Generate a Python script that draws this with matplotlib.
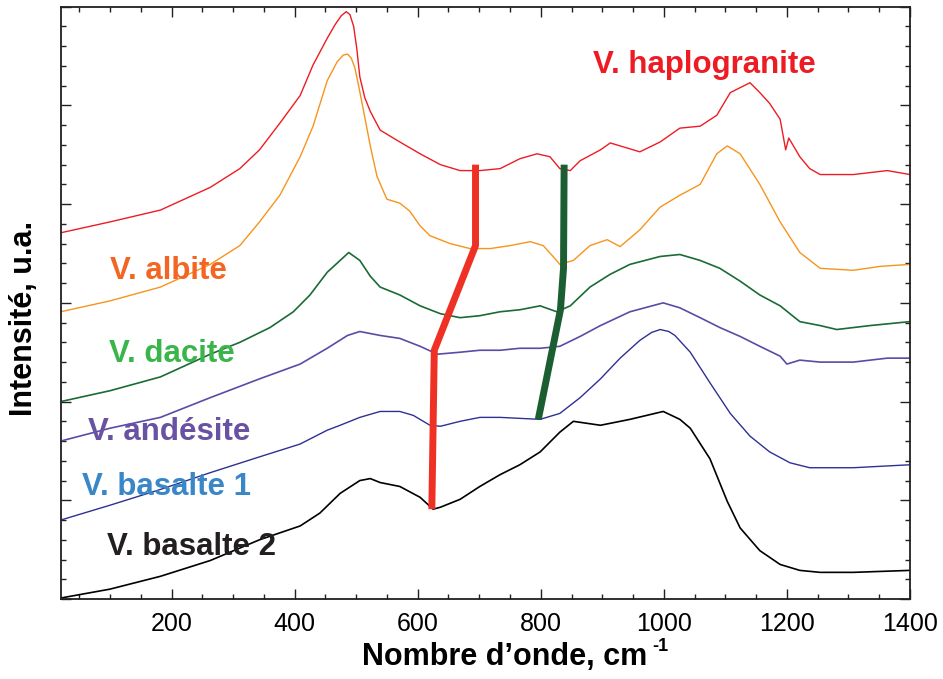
import matplotlib
matplotlib.use("Agg")
import matplotlib.pyplot as plt
from matplotlib.ticker import MultipleLocator

# spectres (nombre d'onde, intensité décalée)
wn_haplo = [20, 100, 182, 263, 311, 343, 376, 409, 430, 453, 466, 476, 484, 490, 496, 501, 506, 514, 523, 539, 571,
            604, 637, 669, 701, 734, 766, 794, 815, 831, 848, 864, 897, 913, 929, 961, 994, 1026, 1059, 1086, 1108,
            1140, 1156, 1172, 1189, 1198, 1203, 1221, 1237, 1254, 1308, 1363, 1400]
int_haplo = [3.71, 3.82, 3.94, 4.17, 4.36, 4.55, 4.82, 5.10, 5.41, 5.68, 5.82, 5.91, 5.95, 5.92, 5.80, 5.58, 5.29,
             5.08, 4.94, 4.75, 4.63, 4.51, 4.40, 4.34, 4.34, 4.36, 4.46, 4.51, 4.48, 4.36, 4.34, 4.44, 4.55, 4.62,
             4.59, 4.53, 4.63, 4.77, 4.79, 4.90, 5.13, 5.23, 5.13, 5.02, 4.86, 4.55, 4.67, 4.48, 4.36, 4.30, 4.30,
             4.34, 4.30]

wn_albite = [20, 100, 182, 263, 311, 343, 376, 409, 430, 453, 469, 479, 486, 492, 498, 504, 511, 523, 534, 550, 571,
             587, 604, 620, 653, 685, 718, 750, 783, 804, 820, 831, 853, 880, 908, 929, 961, 994, 1026, 1059, 1086,
             1103, 1124, 1156, 1189, 1221, 1254, 1308, 1352, 1400]
int_albite = [2.91, 3.02, 3.16, 3.39, 3.58, 3.82, 4.09, 4.48, 4.79, 5.25, 5.44, 5.51, 5.52, 5.48, 5.38, 5.20, 4.98,
              4.59, 4.28, 4.05, 4.01, 3.93, 3.78, 3.68, 3.60, 3.55, 3.55, 3.58, 3.62, 3.58, 3.47, 3.39, 3.43, 3.58,
              3.64, 3.57, 3.74, 3.97, 4.09, 4.20, 4.51, 4.59, 4.51, 4.20, 3.82, 3.51, 3.35, 3.33, 3.37, 3.39]

wn_dacite = [20, 100, 182, 263, 311, 360, 398, 425, 453, 474, 488, 506, 523, 539, 571, 604, 637, 669, 701, 734,
             766, 799, 826, 848, 880, 913, 945, 994, 1026, 1059, 1091, 1124, 1156, 1189, 1221, 1254, 1281, 1335, 1400]
int_dacite = [2.00, 2.11, 2.25, 2.48, 2.60, 2.75, 2.91, 3.08, 3.31, 3.43, 3.51, 3.43, 3.27, 3.16, 3.08, 2.97, 2.89,
              2.85, 2.87, 2.91, 2.93, 2.97, 2.91, 2.97, 3.16, 3.29, 3.39, 3.47, 3.49, 3.43, 3.35, 3.22, 3.08, 2.97,
              2.81, 2.77, 2.73, 2.77, 2.81]

wn_andesite = [20, 100, 182, 263, 343, 409, 453, 486, 506, 539, 571, 604, 632, 669, 701, 734, 766, 799, 831, 864,
               897, 945, 999, 1026, 1059, 1091, 1124, 1156, 1189, 1200, 1221, 1254, 1308, 1363, 1400]
int_andesite = [1.60, 1.73, 1.84, 2.04, 2.23, 2.38, 2.54, 2.67, 2.71, 2.67, 2.64, 2.56, 2.48, 2.50, 2.52, 2.52, 2.54,
                2.54, 2.56, 2.66, 2.77, 2.91, 3.00, 2.95, 2.85, 2.75, 2.66, 2.56, 2.46, 2.38, 2.42, 2.40, 2.40, 2.44,
                2.44]

wn_basalte1 = [20, 100, 182, 263, 343, 409, 453, 474, 506, 539, 571, 593, 620, 637, 669, 701, 734, 766, 799, 831,
               864, 897, 929, 961, 980, 994, 1008, 1018, 1043, 1075, 1108, 1140, 1172, 1205, 1237, 1308, 1400]
int_basalte1 = [0.80, 0.95, 1.11, 1.28, 1.44, 1.57, 1.71, 1.76, 1.84, 1.90, 1.90, 1.86, 1.76, 1.75, 1.80, 1.84, 1.84,
                1.83, 1.82, 1.88, 2.04, 2.23, 2.44, 2.62, 2.70, 2.73, 2.71, 2.67, 2.50, 2.19, 1.88, 1.65, 1.49, 1.38,
                1.33, 1.33, 1.36]

wn_basalte2 = [20, 100, 182, 263, 343, 409, 441, 474, 506, 523, 539, 571, 604, 625, 637, 669, 701, 734, 766, 799,
               831, 853, 897, 945, 999, 1026, 1043, 1075, 1103, 1124, 1156, 1189, 1221, 1254, 1308, 1400]
int_basalte2 = [0.01, 0.10, 0.23, 0.39, 0.60, 0.74, 0.87, 1.07, 1.20, 1.22, 1.18, 1.14, 1.03, 0.91, 0.93, 1.01, 1.14,
                1.26, 1.36, 1.49, 1.69, 1.80, 1.76, 1.82, 1.90, 1.82, 1.73, 1.42, 0.99, 0.72, 0.49, 0.35, 0.29, 0.27,
                0.27, 0.29]

# traits épais (déplacement des bandes)
wn_trait_rouge = [694, 694, 627, 623]
int_trait_rouge = [4.40, 3.58, 2.52, 0.91]
wn_trait_vert = [838, 837, 832, 796]
int_trait_vert = [4.40, 3.35, 2.93, 1.82]

plt.rcParams['font.family'] = ['Liberation Sans', 'DejaVu Sans']

fig = plt.figure(figsize=(9.43, 6.79), dpi=100)
ax = fig.add_axes([0.0644, 0.1178, 0.9006, 0.8723])

ax.plot(wn_haplo, int_haplo, color='#ed1c24', lw=1.0)
ax.plot(wn_albite, int_albite, color='#f7941d', lw=1.0)
ax.plot(wn_dacite, int_dacite, color='#1a6b35', lw=1.2)
ax.plot(wn_andesite, int_andesite, color='#5b4ba5', lw=1.2)
ax.plot(wn_basalte1, int_basalte1, color='#2e3192', lw=1.0)
ax.plot(wn_basalte2, int_basalte2, color='black', lw=1.2)

ax.plot(wn_trait_rouge, int_trait_rouge, color='#ee3124', lw=5, solid_capstyle='butt', zorder=5)
ax.plot(wn_trait_vert, int_trait_vert, color='#1b5e32', lw=5, solid_capstyle='butt', zorder=5)

# noms des verres
lab = dict(fontsize=22.5, fontweight='bold', ha='left', va='baseline')
ax.text(885, 5.33, 'V. haplogranite', color='#ed1c24', **lab)
ax.text(100, 3.24, 'V. albite', color='#f26522', **lab)
ax.text(98, 2.40, 'V. dacite', color='#39b54a', **lab)
ax.text(64, 1.61, 'V. andésite', color='#6a52a3', **lab)
ax.text(55, 1.05, 'V. basalte 1', color='#3a87c8', **lab)
ax.text(95, 0.445, 'V. basalte 2', color='#231f20', **lab)

ax.set_xlim(20, 1400)
ax.set_ylim(0, 6)
ax.xaxis.set_major_locator(MultipleLocator(200))
ax.xaxis.set_minor_locator(MultipleLocator(50))
ax.yaxis.set_major_locator(MultipleLocator(1))
ax.yaxis.set_minor_locator(MultipleLocator(0.2))
ax.set_yticklabels([])
ax.tick_params(which='both', direction='in', top=True, right=True, color='#231f20', width=1)
ax.tick_params(which='major', length=7, labelsize=18, pad=9)
ax.tick_params(which='minor', length=3.6)
for s in ax.spines.values():
    s.set_linewidth(1.3)
    s.set_color('#231f20')

ax.set_xlabel("Nombre d\u2019onde, cm", fontsize=22, fontweight='bold')
ax.xaxis.set_label_coords(0.523, -0.072)
# exposant -1 de l'unité
ax.text(0.696, -0.066, '-1', transform=ax.transAxes, fontsize=13, fontweight='bold', ha='left', va='top')
ax.set_ylabel('Intensité, u.a.', fontsize=22, fontweight='bold')
ax.yaxis.set_label_coords(-0.026, 0.473)

plt.savefig('out.png', dpi=100)
